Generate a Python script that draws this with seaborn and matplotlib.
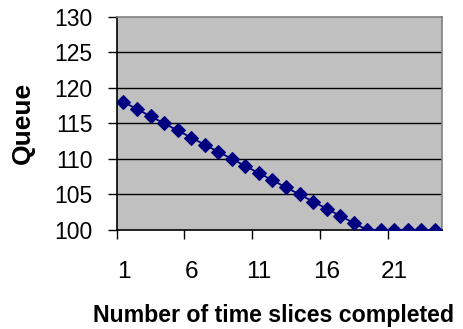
import matplotlib
matplotlib.use("Agg")
import matplotlib.pyplot as plt
import seaborn as sns
import pandas as pd

slices = list(range(1, 25))
queue = [118, 117, 116, 115, 114, 113, 112, 111, 110, 109, 108, 107, 106, 105,
         104, 103, 102, 101, 100, 100, 100, 100, 100, 100]
x_labels = [1, 6, 11, 16, 21]
y_ticks = [100, 105, 110, 115, 120, 125, 130]

df = pd.DataFrame({"slice": slices, "queue": queue})

sns.set_theme(style="white")
plt.rcParams["font.family"] = ["Liberation Sans", "DejaVu Sans"]

fig = plt.figure(figsize=(4.64, 3.29), dpi=100)
ax = fig.add_axes([116.7 / 464, 1 - 230 / 329, 325 / 464, (230 - 16.7) / 329])
ax.set_facecolor("#C0C0C0")

for y in y_ticks[1:-1]:
    ax.axhline(y, color="black", lw=1.0, zorder=1)

sns.lineplot(data=df, x="slice", y="queue", ax=ax, color="#000080", lw=1.3,
             marker="D", markersize=7, markeredgecolor="#000080", zorder=3)

ax.set_xlim(0.5, 24.5)
ax.set_ylim(100, 130)
ax.set_yticks(y_ticks)
ax.set_yticklabels([str(v) for v in y_ticks], fontsize=16.5, color="black")

ax.set_xticks([0.5, 5.5, 10.5, 15.5, 20.5])
ax.set_xticklabels([])
ax.set_xticks(x_labels, minor=True)
ax.set_xticklabels([str(v) for v in x_labels], minor=True, fontsize=17.5, color="black")
ax.tick_params(axis="x", which="major", direction="out", length=6.5, width=1, color="black", bottom=True)
ax.tick_params(axis="x", which="minor", length=0, pad=22, bottom=True)
ax.tick_params(axis="y", direction="out", length=6.5, width=1, color="black", left=True, pad=11)

for side in ["left", "bottom"]:
    ax.spines[side].set_color("black")
    ax.spines[side].set_linewidth(1.2)
for side in ["top", "right"]:
    ax.spines[side].set_color("#808080")
    ax.spines[side].set_linewidth(1.2)

ax.set_xlabel("Number of time slices completed", fontsize=16.7, fontweight="bold", color="black")
ax.xaxis.set_label_coords(0.484, -0.345)
ax.set_ylabel("Queue", fontsize=19, fontweight="bold", labelpad=14, color="black")

fig.savefig("out.png", dpi=100)
